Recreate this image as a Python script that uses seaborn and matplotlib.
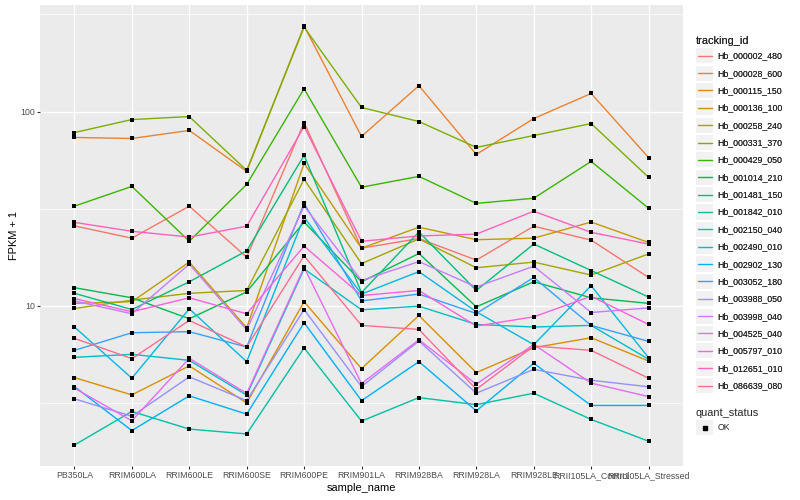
import matplotlib
matplotlib.use('Agg')
import matplotlib.pyplot as plt
from matplotlib.lines import Line2D
from matplotlib.patches import Rectangle
from matplotlib.legend_handler import HandlerBase
import seaborn as sns
import pandas as pd
import numpy as np

# --- data -------------------------------------------------------------
sample_names = ['PB350LA', 'RRIM600LA', 'RRIM600LE', 'RRIM600SE', 'RRIM600PE', 'RRIM901LA',
                'RRIM928BA', 'RRIM928LA', 'RRIM928LE', 'RRII105LA_Control', 'RRII105LA_Stressed']

tracking_ids = ['Hb_000002_480', 'Hb_000028_600', 'Hb_000115_150', 'Hb_000136_100',
                'Hb_000258_240', 'Hb_000331_370', 'Hb_000429_050', 'Hb_001014_210',
                'Hb_001481_150', 'Hb_001842_010', 'Hb_002150_040', 'Hb_002490_010',
                'Hb_002902_130', 'Hb_003052_180', 'Hb_003988_050', 'Hb_003998_040',
                'Hb_004525_040', 'Hb_005797_010', 'Hb_012651_010', 'Hb_086639_080']

# FPKM + 1 for every gene, one value per sample
hb_000002_480 = [25.8, 22.3, 32.6, 17.8, 87.8, 19.8, 22.2, 17.2, 25.7, 21.8, 14.0]
hb_000028_600 = [73.6, 72.7, 80.0, 49.2, 276, 74.5, 136, 60.2, 92.1, 124, 58.0]
hb_000115_150 = [4.27, 3.48, 4.91, 3.16, 10.5, 4.75, 8.92, 4.53, 6.09, 6.85, 5.20]
hb_000136_100 = [10.3, 10.5, 16.8, 7.71, 54.1, 19.8, 25.4, 21.9, 22.3, 27.0, 21.2]
hb_000258_240 = [9.69, 10.7, 11.6, 12.0, 44.8, 16.5, 22.1, 15.7, 16.8, 14.4, 18.5]
hb_000331_370 = [78.0, 91.0, 94.3, 49.8, 272, 105, 88.9, 65.4, 75.3, 86.8, 45.9]
hb_000429_050 = [32.6, 41.2, 21.5, 42.2, 131, 40.8, 46.4, 33.7, 35.8, 55.4, 31.8]
hb_001014_210 = [12.4, 11.0, 8.58, 11.8, 27.0, 13.3, 18.6, 9.88, 13.3, 11.0, 10.3]
hb_001481_150 = [11.6, 9.57, 13.3, 19.2, 59.5, 11.7, 24.0, 12.0, 20.8, 15.2, 11.1]
hb_001842_010 = [1.92, 2.86, 2.32, 2.19, 6.07, 2.55, 3.37, 3.10, 3.55, 2.60, 2.01]
hb_002150_040 = [5.43, 5.63, 5.24, 3.47, 15.5, 9.54, 9.96, 8.02, 7.78, 7.93, 5.31]
hb_002490_010 = [7.78, 4.24, 9.65, 5.16, 28.6, 11.5, 15.0, 9.32, 6.31, 12.7, 5.41]
hb_002902_130 = [3.84, 2.28, 3.44, 2.77, 8.18, 3.25, 5.16, 2.88, 5.06, 3.07, 3.07]
hb_003052_180 = [5.90, 7.27, 7.36, 6.14, 33.7, 10.6, 11.5, 9.13, 14.0, 7.93, 6.56]
hb_003988_050 = [3.32, 2.70, 4.31, 3.25, 9.57, 3.84, 6.59, 3.55, 4.71, 4.14, 3.83]
hb_003998_040 = [10.6, 9.10, 16.4, 7.53, 32.6, 13.5, 16.9, 12.5, 16.0, 9.24, 9.76]
hb_004525_040 = [3.77, 2.56, 5.37, 3.54, 15.8, 3.98, 6.69, 3.95, 6.33, 4.00, 3.41]
hb_005797_010 = [10.9, 9.32, 11.0, 9.10, 20.3, 11.3, 12.0, 7.87, 8.78, 11.2, 8.02]
hb_012651_010 = [26.9, 24.2, 22.6, 25.7, 83.8, 21.5, 22.9, 23.4, 30.7, 23.9, 20.8]
hb_086639_080 = [6.80, 5.35, 8.41, 6.14, 18.1, 7.93, 7.56, 3.72, 6.21, 5.90, 4.24]

gene_values = [hb_000002_480, hb_000028_600, hb_000115_150, hb_000136_100, hb_000258_240,
               hb_000331_370, hb_000429_050, hb_001014_210, hb_001481_150, hb_001842_010,
               hb_002150_040, hb_002490_010, hb_002902_130, hb_003052_180, hb_003988_050,
               hb_003998_040, hb_004525_040, hb_005797_010, hb_012651_010, hb_086639_080]

quant_status = 'OK'

# ggplot default hue palette for 20 levels
colors = ['#F8766D', '#EA8331', '#D89000', '#C09B00', '#A3A500', '#7CAE00', '#39B600',
          '#00BB4E', '#00BF7D', '#00C1A3', '#00BFC4', '#00BAE0', '#00B0F6', '#35A2FF',
          '#9590FF', '#C77CFF', '#E76BF3', '#FA62DB', '#FF62BC', '#FF6C91']

rows = []
for tid, vals in zip(tracking_ids, gene_values):
    for s, v in zip(sample_names, vals):
        rows.append({'tracking_id': tid, 'sample_name': s, 'fpkm1': v, 'quant_status': quant_status})
df = pd.DataFrame(rows)

# --- style ------------------------------------------------------------
sns.set_theme(style='darkgrid', rc={'axes.facecolor': '#EBEBEB', 'grid.color': 'white'})
plt.rcParams['font.family'] = ['Liberation Sans', 'DejaVu Sans']

fig = plt.figure(figsize=(8, 5), dpi=100)
ax = fig.add_axes([40 / 800, 1 - 466 / 500, 643 / 800, 461 / 500])

sns.lineplot(data=df, x='sample_name', y='fpkm1', hue='tracking_id', palette=colors,
             sort=False, lw=1.0, legend=False, ax=ax, zorder=2)
sns.scatterplot(data=df, x='sample_name', y='fpkm1', color='black', marker='s', s=11,
                linewidth=0, legend=False, ax=ax, zorder=3)

ax.set_yscale('log')
lo, hi = np.log10(df['fpkm1'].min()), np.log10(df['fpkm1'].max())
pad = 0.05 * (hi - lo)
ax.set_ylim(10 ** (lo - pad), 10 ** (hi + pad))
ax.set_xlim(-0.6, len(sample_names) - 0.4)

ax.set_yticks([10, 100])
ax.set_yticklabels(['10', '100'])
ax.set_yticks([10 ** 0.5, 10 ** 1.5, 10 ** 2.5], minor=True)
ax.yaxis.set_minor_formatter(plt.NullFormatter())
ax.grid(which='major', color='white', lw=1.0)
ax.grid(which='minor', axis='y', color='white', lw=0.5)
ax.set_axisbelow(True)
for sp in ax.spines.values():
    sp.set_visible(False)

ax.tick_params(axis='both', which='major', length=2, width=0.8, color='#333333',
               labelsize=6.3, labelcolor='#4D4D4D', pad=1.6, left=True, bottom=True)
ax.tick_params(axis='y', which='minor', length=0, left=False)
ax.set_xlabel('sample_name', fontsize=7.9, color='black', labelpad=2)
ax.set_ylabel('FPKM + 1', fontsize=7.9, color='black', labelpad=1)


# --- legends with grey key boxes, as ggplot draws them -----------------
class KeyHandler(HandlerBase):
    def create_artists(self, legend, orig_handle, xdescent, ydescent, width, height, fontsize, trans):
        x0, y0 = -xdescent, -ydescent
        bg = Rectangle((x0, y0), width, height,
                       facecolor='#F2F2F2', edgecolor='none', transform=trans)
        ym = y0 + height / 2
        if orig_handle.get_marker() not in (None, 'None', ''):
            mk = Line2D([x0 + width / 2], [ym], marker='s', markersize=2.6, color='black',
                        linestyle='none', transform=trans)
        else:
            mk = Line2D([x0 + 1.2, x0 + width - 1.2], [ym, ym], color=orig_handle.get_color(),
                        lw=1.0, transform=trans)
        return [bg, mk]


legend_kw = dict(loc='upper left', frameon=False, fontsize=6.3, title_fontsize=7.9,
                 handlelength=1.98, handleheight=2.29, labelspacing=0.25, handletextpad=0.5,
                 borderpad=0, borderaxespad=0, alignment='left',
                 handler_map={Line2D: KeyHandler()})

line_handles = [Line2D([], [], color=c, lw=1.0) for c in colors]
leg1 = fig.legend(line_handles, tracking_ids, title='tracking_id',
                  bbox_to_anchor=(696 / 800, 1 - 36 / 500), **legend_kw)
fig.add_artist(leg1)

ok_handle = Line2D([], [], marker='s', color='black', linestyle='none')
fig.legend([ok_handle], ['OK'], title='quant_status',
           bbox_to_anchor=(696 / 800, 1 - 408 / 500), **legend_kw)

fig.savefig('out.png', dpi=100, facecolor='white')
